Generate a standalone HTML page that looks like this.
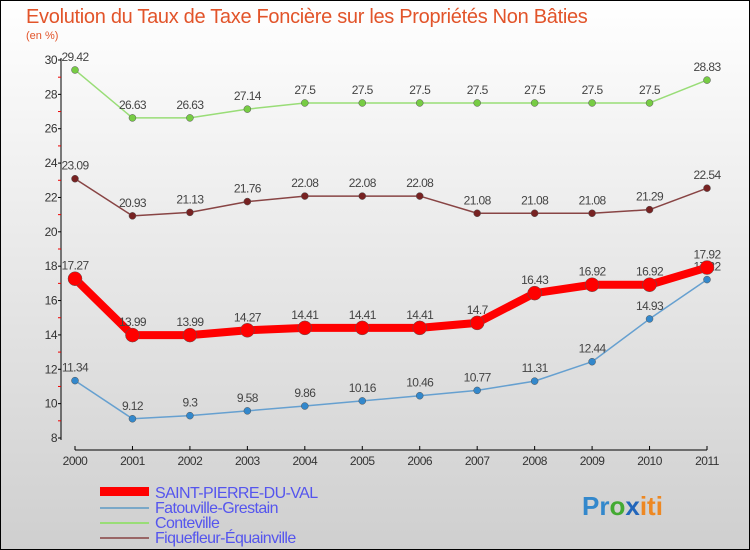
<!DOCTYPE html>
<html><head><meta charset="utf-8"><style>
body{margin:0}
svg{display:block;font-family:"Liberation Sans",sans-serif}
</style></head><body>
<svg width="750" height="550">
<defs><linearGradient id="bg" x1="0" y1="0" x2="0" y2="1"><stop offset="0" stop-color="#ffffff"/><stop offset="1" stop-color="#cfcfcf"/></linearGradient></defs>
<rect x="0.5" y="0.5" width="749" height="549" fill="url(#bg)" stroke="#000"/>
<text x="26" y="23" font-size="20" fill="#e2542a" letter-spacing="-0.3">Evolution du Taux de Taxe Foncière sur les Propriétés Non Bâties</text>
<text x="26" y="39" font-size="11" fill="#e2542a">(en %)</text>
<g id="axes"></g><g id="series"></g>
<g>
<rect x="100" y="487" width="49" height="9" fill="#f00"/>
<text x="155" y="498" font-size="16" fill="#5555ee" letter-spacing="-0.6">SAINT-PIERRE-DU-VAL</text>
<line x1="100" y1="508" x2="149" y2="508" stroke="#7aa8c8" stroke-width="2"/>
<text x="155" y="513" font-size="16" fill="#5555ee" letter-spacing="-0.6">Fatouville-Grestain</text>
<line x1="100" y1="523" x2="149" y2="523" stroke="#99dd77" stroke-width="2"/>
<text x="155" y="528" font-size="16" fill="#5555ee" letter-spacing="-0.6">Conteville</text>
<line x1="100" y1="538" x2="149" y2="538" stroke="#996666" stroke-width="2"/>
<text x="155" y="543" font-size="16" fill="#5555ee" letter-spacing="-0.6">Fiquefleur-Équainville</text>
</g>
<text x="582" y="515" font-size="26" font-weight="bold"><tspan fill="#3388cc">Pr</tspan><tspan fill="#44aa33">o</tspan><tspan fill="#2266bb">x</tspan><tspan fill="#ee8822">iti</tspan></text>
</svg>
<script>
const years=[2000,2001,2002,2003,2004,2005,2006,2007,2008,2009,2010,2011];
const yTicks=[8,10,12,14,16,18,20,22,24,26,28,30];
const conteville=[29.42,26.63,26.63,27.14,27.5,27.5,27.5,27.5,27.5,27.5,27.5,28.83];
const fiquefleur=[23.09,20.93,21.13,21.76,22.08,22.08,22.08,21.08,21.08,21.08,21.29,22.54];
const saintPierre=[17.27,13.99,13.99,14.27,14.41,14.41,14.41,14.7,16.43,16.92,16.92,17.92];
const fatouville=[11.34,9.12,9.3,9.58,9.86,10.16,10.46,10.77,11.31,12.44,14.93,17.22];
const NS="http://www.w3.org/2000/svg";
const X=i=>75+i*(632/11), Y=v=>60+(30-v)*(378/22);
function mk(t,a,p){const e=document.createElementNS(NS,t);for(const k in a)e.setAttribute(k,a[k]);p.appendChild(e);return e;}
const ax=document.getElementById('axes');
mk('line',{x1:61,y1:58,x2:61,y2:440,stroke:'#000'},ax);
mk('line',{x1:75,y1:450,x2:707,y2:450,stroke:'#000'},ax);
yTicks.forEach(v=>{mk('line',{x1:58,y1:Y(v),x2:61,y2:Y(v),stroke:'#000'},ax);
 if(v<30)mk('line',{x1:58,y1:Y(v+1),x2:61,y2:Y(v+1),stroke:'#e00'},ax);
 const t=mk('text',{x:57,y:Y(v)+4,'font-size':12,'text-anchor':'end',fill:'#333','letter-spacing':'-0.5'},ax);t.textContent=v;
 
 });
years.forEach((y,i)=>{mk('line',{x1:X(i),y1:446,x2:X(i),y2:450,stroke:'#000'},ax);
 const t=mk('text',{x:X(i),y:465,'font-size':12,'text-anchor':'middle',fill:'#333','letter-spacing':'-0.5'},ax);t.textContent=y;
 
 });
const sg=document.getElementById('series');
function draw(name,vals,col,w,r,dot){
 const g=mk('g',{},sg);
 
 
 mk('polyline',{points:vals.map((v,i)=>X(i)+','+Y(v)).join(' '),fill:'none',stroke:col,'stroke-width':w,'stroke-linejoin':'round'},g);
 vals.forEach((v,i)=>{const c=mk('circle',{cx:X(i),cy:Y(v),r:r,fill:dot,stroke:'#555','stroke-width':0.5},g);
  
  
  const t=mk('text',{x:X(i),y:Y(v)-9,'font-size':12,'text-anchor':'middle',fill:'#444','letter-spacing':'-0.6'},g);t.textContent=v;
  
  });
}
draw('conteville-line',conteville,'#99dd77',1.5,3.5,'#77cc44');
draw('fiquefleur-line',fiquefleur,'#884444',1.5,3.5,'#772222');
draw('fatouville-line',fatouville,'#66a0d0',1.5,3.5,'#3388cc');
draw('saint-pierre-line',saintPierre,'#ff0000',8,7,'#ff0000');
</script>
</body></html>
